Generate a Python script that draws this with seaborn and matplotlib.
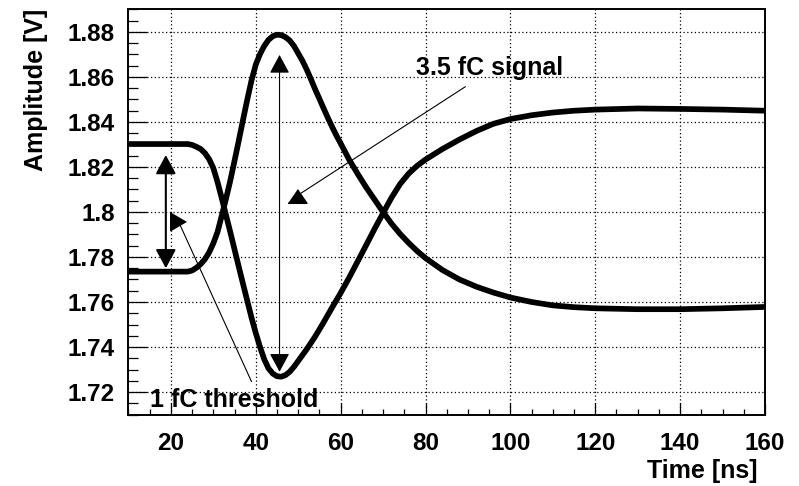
import numpy as np
import pandas as pd
import matplotlib
matplotlib.use("Agg")
import matplotlib.pyplot as plt
from matplotlib.ticker import MultipleLocator, FixedLocator, FixedFormatter
import seaborn as sns

# ---- data ----
time_ns = [10, 20, 24, 25, 26, 27, 28, 29, 30, 31, 32, 33, 34, 35, 36, 37, 38, 39,
           40, 41, 42, 43, 44, 45, 46, 47, 48, 49, 50, 51, 52, 53, 54, 55, 56, 57,
           58, 59, 60, 62, 64, 66, 68, 70, 72, 74, 76, 78, 80, 84, 88, 92, 96, 100,
           105, 110, 115, 120, 130, 140, 150, 160]

signal_pos = [1.7735, 1.7735, 1.7735, 1.7740, 1.7752, 1.7768, 1.7790, 1.7820, 1.7861,
              1.7912, 1.7985, 1.8060, 1.8140, 1.8228, 1.8318, 1.8410, 1.8500, 1.8585,
              1.8655, 1.8702, 1.8738, 1.8765, 1.8781, 1.8788, 1.8786, 1.8777, 1.8762,
              1.8738, 1.8705, 1.8672, 1.8633, 1.8590, 1.8545, 1.8503, 1.8460, 1.8418,
              1.8378, 1.8340, 1.8305, 1.8233, 1.8170, 1.8110, 1.8055, 1.8000, 1.7948,
              1.7903, 1.7863, 1.7827, 1.7795, 1.7742, 1.7700, 1.7668, 1.7642, 1.7620,
              1.7600, 1.7585, 1.7577, 1.7572, 1.7568, 1.7568, 1.7572, 1.7578]

signal_neg = [1.8302, 1.8302, 1.8302, 1.8298, 1.8290, 1.8280, 1.8262, 1.8235, 1.8195,
              1.8132, 1.8060, 1.7985, 1.7910, 1.7833, 1.7756, 1.7680, 1.7605, 1.7530,
              1.7462, 1.7400, 1.7345, 1.7305, 1.7282, 1.7270, 1.7268, 1.7275, 1.7290,
              1.7312, 1.7338, 1.7364, 1.7390, 1.7418, 1.7447, 1.7478, 1.7510, 1.7543,
              1.7576, 1.7608, 1.7640, 1.7708, 1.7780, 1.7852, 1.7925, 1.7995, 1.8064,
              1.8124, 1.8170, 1.8205, 1.8233, 1.8280, 1.8322, 1.8360, 1.8392, 1.8413,
              1.8430, 1.8442, 1.8450, 1.8455, 1.8460, 1.8458, 1.8455, 1.8450]

x_ticks = [20, 40, 60, 80, 100, 120, 140, 160]
x_tick_labels = ["20", "40", "60", "80", "100", "120", "140", "160"]
y_ticks = [1.72, 1.74, 1.76, 1.78, 1.80, 1.82, 1.84, 1.86, 1.88]
y_tick_labels = ["1.72", "1.74", "1.76", "1.78", "1.8", "1.82", "1.84", "1.86", "1.88"]

x_title = "Time [ns]"
y_title = "Amplitude [V]"
label_signal = "3.5 fC signal"
label_threshold = "1 fC threshold"

# annotation anchors (data coordinates)
thr_arrow_x, thr_arrow_y0, thr_arrow_y1 = 18.8, 1.7750, 1.8253
sig_arrow_x, sig_arrow_y0, sig_arrow_y1 = 45.6, 1.7290, 1.8698
sig_text_xy = (77.8, 1.8609)
sig_line = ([89.4, 49.8], [1.8557, 1.8073])
thr_text_xy = (15.06, 1.7135)
thr_line = ([39.0, 21.7], [1.7246, 1.7961])

# ---- style ----
sns.set_style("ticks")
plt.rcParams["font.family"] = ["Liberation Sans", "DejaVu Sans"]
plt.rcParams["font.weight"] = "bold"
for key in ["text.color", "axes.labelcolor", "xtick.color", "ytick.color",
            "axes.edgecolor"]:
    plt.rcParams[key] = "black"
plt.rcParams["axes.linewidth"] = 1.4
plt.rcParams["axes.axisbelow"] = False
plt.rcParams["xtick.direction"] = "in"
plt.rcParams["ytick.direction"] = "in"

fig = plt.figure(figsize=(7.99, 4.86), dpi=100)
ax = fig.add_axes([0.1608, 0.1471, 0.7966, 0.8334])

df = pd.DataFrame({"t": time_ns, "pos": signal_pos, "neg": signal_neg})
sns.lineplot(data=df, x="t", y="pos", ax=ax, color="black", lw=4.1,
             estimator=None, sort=False, solid_capstyle="butt")
sns.lineplot(data=df, x="t", y="neg", ax=ax, color="black", lw=4.1,
             estimator=None, sort=False, solid_capstyle="butt")
ax.set_xlabel("")
ax.set_ylabel("")

ax.set_xlim(10, 160)
ax.set_ylim(1.71, 1.89)

ax.xaxis.set_major_locator(FixedLocator(x_ticks))
ax.xaxis.set_major_formatter(FixedFormatter(x_tick_labels))
ax.xaxis.set_minor_locator(MultipleLocator(5))
ax.yaxis.set_major_locator(FixedLocator(y_ticks))
ax.yaxis.set_major_formatter(FixedFormatter(y_tick_labels))
ax.yaxis.set_minor_locator(MultipleLocator(0.005))

ax.grid(True, which="major", color="black", linestyle=(0, (1, 2)), lw=0.9)

# axis titles as plain axes-coordinate text (ROOT-like placement)
ax.text(0.989, -0.156, x_title, transform=ax.transAxes, fontsize=18,
        fontweight="bold", ha="right", va="baseline", color="black", clip_on=False)
ax.text(-0.127, 1.003, y_title, transform=ax.transAxes, fontsize=18,
        fontweight="bold", ha="right", va="bottom", rotation=90,
        rotation_mode="anchor", color="black", clip_on=False)

# double arrows
ax.annotate("", xy=(thr_arrow_x, thr_arrow_y1), xytext=(thr_arrow_x, thr_arrow_y0),
            arrowprops=dict(arrowstyle="<|-|>,head_length=1.15,head_width=0.62",
                            mutation_scale=10, lw=1.5, color="black",
                            shrinkA=0, shrinkB=0))
ax.annotate("", xy=(sig_arrow_x, sig_arrow_y1), xytext=(sig_arrow_x, sig_arrow_y0),
            arrowprops=dict(arrowstyle="<|-|>,head_length=1.15,head_width=0.62",
                            mutation_scale=10, lw=0.8, color="black",
                            shrinkA=0, shrinkB=0))

# pointer lines with triangle markers
ax.plot(sig_line[0], sig_line[1], color="black", lw=0.8)
ax.plot([sig_line[0][1]], [sig_line[1][1]], linestyle="none", color="black",
        marker=[(-1, -0.72), (1, -0.72), (0, 0.72)], markersize=13.7)
ax.plot(thr_line[0], thr_line[1], color="black", lw=0.8)
ax.plot([thr_line[0][1]], [thr_line[1][1]], linestyle="none", color="black",
        marker=[(-0.85, 1), (-0.85, -1), (0.85, 0)], markersize=13.2)

ax.text(sig_text_xy[0], sig_text_xy[1], label_signal, fontsize=18, fontweight="bold",
        ha="left", va="baseline", color="black")
ax.text(thr_text_xy[0], thr_text_xy[1], label_threshold, fontsize=18, fontweight="bold",
        ha="left", va="baseline", color="black")

# ticks (ROOT style: inside, left and bottom only)
ax.tick_params(axis="x", which="major", direction="in", length=8.7, width=0.9,
               pad=12.5, labelsize=17.5, bottom=True, top=False, color="black",
               labelcolor="black")
ax.tick_params(axis="x", which="minor", direction="in", length=4.3, width=0.9,
               bottom=True, top=False, color="black")
ax.tick_params(axis="y", which="major", direction="in", length=13.7, width=0.9,
               pad=9.7, labelsize=17.5, left=True, right=False, color="black",
               labelcolor="black")
ax.tick_params(axis="y", which="minor", direction="in", length=6.9, width=0.9,
               left=True, right=False, color="black")

# render once, then force the tick marks' appearance on every tick object
fig.canvas.draw()
tick_sets = [
    (ax.xaxis.get_major_ticks(len(ax.xaxis.get_majorticklocs())), 8.7),
    (ax.xaxis.get_minor_ticks(len(ax.xaxis.get_minorticklocs())), 4.3),
    (ax.yaxis.get_major_ticks(len(ax.yaxis.get_majorticklocs())), 13.7),
    (ax.yaxis.get_minor_ticks(len(ax.yaxis.get_minorticklocs())), 6.9),
]
for ticks, size in tick_sets:
    for tk in ticks:
        ln = tk.tick1line
        ln.set_visible(True)
        ln.set_markersize(size)
        ln.set_markeredgewidth(0.9)
        ln.set_markeredgecolor("black")
        ln.set_color("black")
        ln.set_alpha(1.0)
        ln.set_zorder(3)
        tk.tick2line.set_visible(False)
for lab in ax.get_xticklabels() + ax.get_yticklabels():
    lab.set_fontweight("bold")
ax.xaxis.set_zorder(3)
ax.yaxis.set_zorder(3)

fig.savefig("out.png", dpi=100)
